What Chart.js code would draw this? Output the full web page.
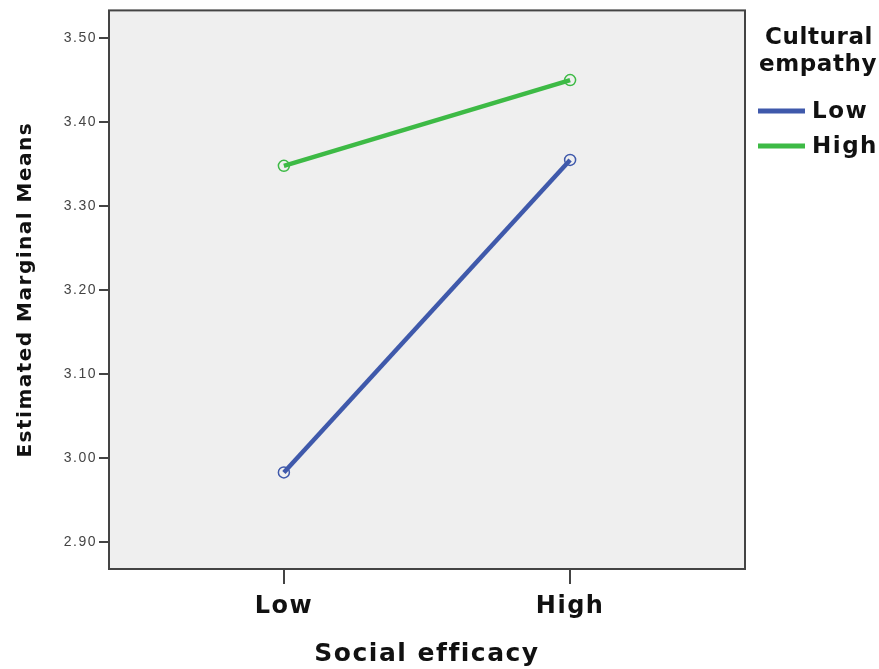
<!DOCTYPE html>
<html>
<head>
<meta charset="utf-8">
<script src="https://cdn.jsdelivr.net/npm/chart.js@4"></script>
<style>
  html, body { margin: 0; padding: 0; background: #fff; }
  #wrap { width: 879px; height: 669px; }
</style>
</head>
<body>
<div id="wrap"><canvas id="chart" width="879" height="669"></canvas></div>
<script>
// data
const categories = ['Low', 'High'];
const seriesNames = ['Low', 'High'];
const lowEmpathy = [2.983, 3.355];
const highEmpathy = [3.348, 3.450];
const yTicks = [2.90, 3.00, 3.10, 3.20, 3.30, 3.40, 3.50];
const seriesColors = ['#3f59ab', '#3dba45'];

const boldFont = '"DejaVu Sans", sans-serif';

// the original text is a bit letter-spaced
const spacing = {
    id: 'spacing',
    beforeUpdate(chart) { chart.ctx.letterSpacing = '1.5px'; },
    beforeDraw(chart) { chart.ctx.letterSpacing = '1.5px'; }
};

// plot background + frame
const frame = {
    id: 'frame',
    beforeDatasetsDraw(chart) {
        const a = chart.chartArea, ctx = chart.ctx;
        ctx.save();
        ctx.fillStyle = '#efefef';
        ctx.fillRect(a.left, a.top, a.right - a.left, a.bottom - a.top);
        ctx.restore();
    },
    afterDatasetsDraw(chart) {
        const a = chart.chartArea, ctx = chart.ctx;
        ctx.save();
        ctx.strokeStyle = '#444';
        ctx.lineWidth = 2;
        ctx.strokeRect(a.left, a.top, a.right - a.left, a.bottom - a.top);
        ctx.restore();
    }
};

// legend drawn by hand to get the two-line title
const sideLegend = {
    id: 'sideLegend',
    afterDraw(chart) {
        const ctx = chart.ctx;
        ctx.save();
        ctx.fillStyle = '#111';
        ctx.font = 'bold 23px ' + boldFont;
        ctx.textAlign = 'center';
        ctx.textBaseline = 'middle';
        ctx.letterSpacing = '0.6px';
        ctx.fillText('Cultural', 819, 38);
        ctx.fillText('empathy', 818, 65);
        ctx.letterSpacing = '1.5px';
        ctx.textAlign = 'left';
        chart.data.datasets.forEach((ds, i) => {
            const y = 111 + i * 35;
            ctx.strokeStyle = ds.borderColor;
            ctx.lineWidth = 5;
            ctx.beginPath();
            ctx.moveTo(758, y);
            ctx.lineTo(805, y);
            ctx.stroke();
            ctx.fillText(ds.label, 812, y + 1);
        });
        ctx.restore();
    }
};

const toPoints = vals => vals.map((v, i) => ({ x: i + 1, y: v }));

new Chart(document.getElementById('chart'), {
    type: 'line',
    data: {
        datasets: [lowEmpathy, highEmpathy].map((vals, i) => ({
            label: seriesNames[i],
            data: toPoints(vals),
            borderColor: seriesColors[i],
            backgroundColor: 'rgba(0,0,0,0)',
            borderWidth: 4.5,
            pointRadius: 5.5,
            pointBorderWidth: 1.5,
            pointBorderColor: seriesColors[i],
            pointBackgroundColor: 'rgba(0,0,0,0)',
            tension: 0
        }))
    },
    options: {
        responsive: false,
        animation: false,
        layout: { padding: { top: 10, right: 134, left: 0, bottom: 0 } },
        plugins: { legend: { display: false }, tooltip: { enabled: false } },
        scales: {
            x: {
                type: 'linear',
                min: 0.389,
                max: 2.611,
                afterBuildTicks: s => { s.ticks = categories.map((c, i) => ({ value: i + 1 })); },
                afterFit: s => { s.height = 100; },
                border: { display: false },
                grid: { drawOnChartArea: false, drawTicks: true, tickLength: 15, tickColor: '#444', lineWidth: 2 },
                ticks: {
                    callback: v => categories[v - 1],
                    color: '#111',
                    font: { family: boldFont, size: 24, weight: 'bold' },
                    padding: 8
                },
                title: {
                    display: true,
                    text: 'Social efficacy',
                    color: '#111',
                    font: { family: boldFont, size: 25, weight: 'bold' },
                    padding: { top: 0, bottom: 0 }
                }
            },
            y: {
                min: 2.868,
                max: 3.533,
                afterBuildTicks: s => { s.ticks = yTicks.map(v => ({ value: v })); },
                afterFit: s => { s.width = 109; },
                border: { display: false },
                grid: { drawOnChartArea: false, drawTicks: true, tickLength: 10, tickColor: '#444', lineWidth: 2 },
                ticks: {
                    callback: v => v.toFixed(2),
                    color: '#444',
                    font: { family: '"Liberation Sans", sans-serif', size: 14 },
                    padding: 2
                },
                title: {
                    display: true,
                    text: 'Estimated Marginal Means',
                    color: '#111',
                    font: { family: boldFont, size: 20, weight: 'bold' },
                    padding: { top: 14, bottom: 0 }
                }
            }
        }
    },
    plugins: [spacing, frame, sideLegend]
});
</script>
</body>
</html>
